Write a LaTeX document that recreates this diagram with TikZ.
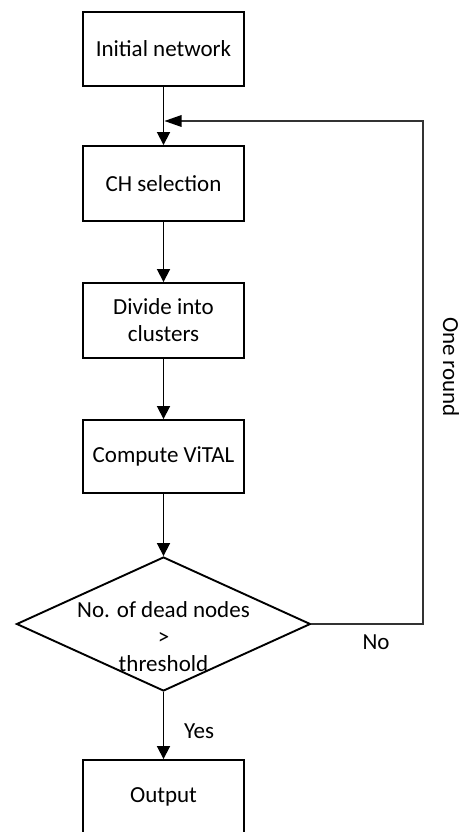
\documentclass[tikz,border=0pt]{standalone}
\usepackage{fontspec}
\setmainfont{Carlito}
\usetikzlibrary{shapes.geometric,arrows.meta}
\begin{document}
\begin{tikzpicture}[x=1pt,y=-1pt,
  every node/.style={font=\fontsize{23}{27}\selectfont},
  procbox/.style={draw,line width=1.9pt,rectangle,minimum width=161pt,inner sep=2pt,align=center},
  flow/.style={line width=1.8pt,-{Triangle[length=13pt,width=13pt]}},
  loopline/.style={line width=1.2pt,draw=black!80}
]
\useasboundingbox (0,0) rectangle (461,832);
% process steps
\node[procbox,minimum height=74pt] (init) at (163.5,49) {Initial network};
\node[procbox,minimum height=75pt] (ch) at (163.5,183.5) {CH selection};
\node[procbox,minimum height=75pt] (div) at (163.5,320.5) {Divide into\\clusters};
\node[procbox,minimum height=73pt] (vital) at (163.5,456.5) {Compute ViTAL};
% decision
\node[diamond,draw,line width=1.9pt,inner sep=0pt,minimum width=294pt,minimum height=134pt] (dead) at (163.5,624) {};
\node[align=center] (deadtxt) at (163.5,637) {No. of dead nodes\\>\\threshold};
\node[procbox,minimum height=74pt] (out) at (163.5,797) {Output};
% main flow
\coordinate (join) at (163.5,121);
\coordinate (turn) at (423,624);
\draw[line width=1.8pt] (init.south) -- (join);
\draw[flow] (join) -- (ch.north);
\draw[flow] (ch.south) -- (div.north);
\draw[flow] (div.south) -- (vital.north);
\draw[flow] (vital.south) -- (dead.north);
\draw[flow] (dead.south) -- (out.north);
% loop back for the next round
\draw[loopline] (dead.east) -- (turn) |- ([xshift=16pt]join);
\fill ([xshift=1pt]join) -- ([xshift=18pt,yshift=6pt]join) -- ([xshift=18pt,yshift=-6pt]join) -- cycle;
% labels
\node (no) at (376,642) {No};
\node (yes) at (199,731) {Yes};
\node[rotate=-90] (round) at (451,367) {One round};
\end{tikzpicture}
\end{document}
